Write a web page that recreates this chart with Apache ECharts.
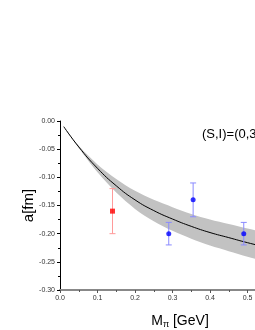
<!DOCTYPE html>
<html>
<head>
<meta charset="utf-8">
<script src="https://cdn.jsdelivr.net/npm/echarts@6/dist/echarts.min.js"></script>
<style>html,body{margin:0;padding:0;background:#fff}#c{width:255px;height:330px}</style>
</head>
<body>
<div id="c"></div>
<script>
// Fit curve
var curveX = [0.01, 0.05, 0.10, 0.15, 0.20, 0.25, 0.30, 0.35, 0.40, 0.45, 0.50, 0.55, 0.60];
var curveY = [-0.010, -0.046, -0.084, -0.115, -0.140, -0.159, -0.174, -0.187, -0.198, -0.207, -0.216, -0.224, -0.231];
// Error band edges
var bandUpper = [-0.010, -0.044, -0.077, -0.103, -0.124, -0.140, -0.153, -0.165, -0.175, -0.183, -0.191, -0.198, -0.204];
var bandLower = [-0.010, -0.048, -0.091, -0.127, -0.156, -0.178, -0.195, -0.209, -0.221, -0.231, -0.241, -0.250, -0.258];
// Lattice points
var redX = [0.14], redY = [-0.160], redErr = [0.040];
var blueX = [0.29, 0.355, 0.49], blueY = [-0.200, -0.140, -0.200], blueErr = [0.020, 0.030, 0.020];
var labelText = '(S,I)=(0,3/2)';

var chart = echarts.init(document.getElementById('c'), null, {renderer: 'canvas'});

function pairs(xs, ys) { return xs.map(function (x, i) { return [x, ys[i]]; }); }
function errData(xs, ys, es) { return xs.map(function (x, i) { return [x, ys[i], es[i]]; }); }
function errRender(color) {
  return function (params, api) {
    var x = api.value(0), y = api.value(1), e = api.value(2);
    var top = api.coord([x, y + e]), bot = api.coord([x, y - e]);
    var st = {stroke: color, lineWidth: 1};
    return {type: 'group', children: [
      {type: 'line', shape: {x1: top[0], y1: top[1], x2: bot[0], y2: bot[1]}, style: st},
      {type: 'line', shape: {x1: top[0] - 3, y1: top[1], x2: top[0] + 3, y2: top[1]}, style: st},
      {type: 'line', shape: {x1: bot[0] - 3, y1: bot[1], x2: bot[0] + 3, y2: bot[1]}, style: st}
    ]};
  };
}
function bandRender(params, api) {
  var pts = [];
  for (var i = 0; i < curveX.length; i++) pts.push(api.coord([curveX[i], bandUpper[i]]));
  for (var j = curveX.length - 1; j >= 0; j--) pts.push(api.coord([curveX[j], bandLower[j]]));
  return {type: 'polygon', shape: {points: pts, smooth: 0.3}, style: {fill: '#c2c2c2', stroke: null}};
}

chart.setOption({
  animation: false,
  grid: {left: 60, top: 121, width: 225, height: 169, containLabel: false, outerBoundsMode: 'none'},
  title: {text: labelText, left: 202, top: 128, padding: 0, textStyle: {fontSize: 13, fontWeight: 'normal', color: '#000', fontFamily: 'Liberation Sans, Arial, sans-serif'}},
  xAxis: {
    type: 'value', min: 0, max: 0.6, interval: 0.1,
    name: '{m|M}{s|π}{m| [GeV]}', nameLocation: 'middle', nameGap: 24, nameMoveOverlap: false,
    nameTextStyle: {padding: [0, 0, 0, 15], rich: {
      m: {fontSize: 14, color: '#000', fontFamily: 'Liberation Sans, Arial, sans-serif'},
      s: {fontSize: 9, color: '#000', padding: [6, 0, 0, 0], fontFamily: 'Liberation Sans, Arial, sans-serif'}
    }},
    axisLine: {show: true, onZero: false, lineStyle: {color: '#888', width: 2}},
    axisTick: {show: true, inside: false, length: 3, lineStyle: {color: '#555'}},
    minorTick: {show: true, splitNumber: 2, length: 2, lineStyle: {color: '#555'}},
    splitLine: {show: false},
    axisLabel: {fontSize: 7, color: '#333', margin: 5, fontFamily: 'Liberation Sans, Arial, sans-serif', formatter: function (v) { return v.toFixed(1); }}
  },
  yAxis: {
    type: 'value', min: -0.30, max: 0, interval: 0.05,
    name: 'a[fm]', nameLocation: 'middle', nameGap: 24, nameRotate: 90, nameMoveOverlap: false,
    nameTextStyle: {fontSize: 15, color: '#000', fontFamily: 'Liberation Sans, Arial, sans-serif'},
    axisLine: {show: true, onZero: false, lineStyle: {color: '#000', width: 1}},
    axisTick: {show: true, inside: false, length: 3, lineStyle: {color: '#000'}},
    minorTick: {show: true, splitNumber: 2, length: 2, lineStyle: {color: '#000'}},
    splitLine: {show: false},
    axisLabel: {fontSize: 7, color: '#333', margin: 5, fontFamily: 'Liberation Sans, Arial, sans-serif', formatter: function (v) { return v.toFixed(2); }}
  },
  series: [
    {type: 'custom', data: [[0, 0]], renderItem: bandRender, silent: true, z: 1},
    {type: 'line', data: pairs(curveX, curveY), smooth: true, symbol: 'none', lineStyle: {color: '#000', width: 1}, z: 2},
    {type: 'custom', data: errData(redX, redY, redErr), renderItem: errRender('#ff9a9a'), z: 3},
    {type: 'custom', data: errData(blueX, blueY, blueErr), renderItem: errRender('#8a8aff'), z: 3},
    {type: 'scatter', data: pairs(redX, redY), symbol: 'rect', symbolSize: 5, itemStyle: {color: '#ff0000'}, z: 4},
    {type: 'scatter', data: pairs(blueX, blueY), symbol: 'circle', symbolSize: 5, itemStyle: {color: '#0000ff'}, z: 4}
  ]
});
</script>
</body>
</html>
